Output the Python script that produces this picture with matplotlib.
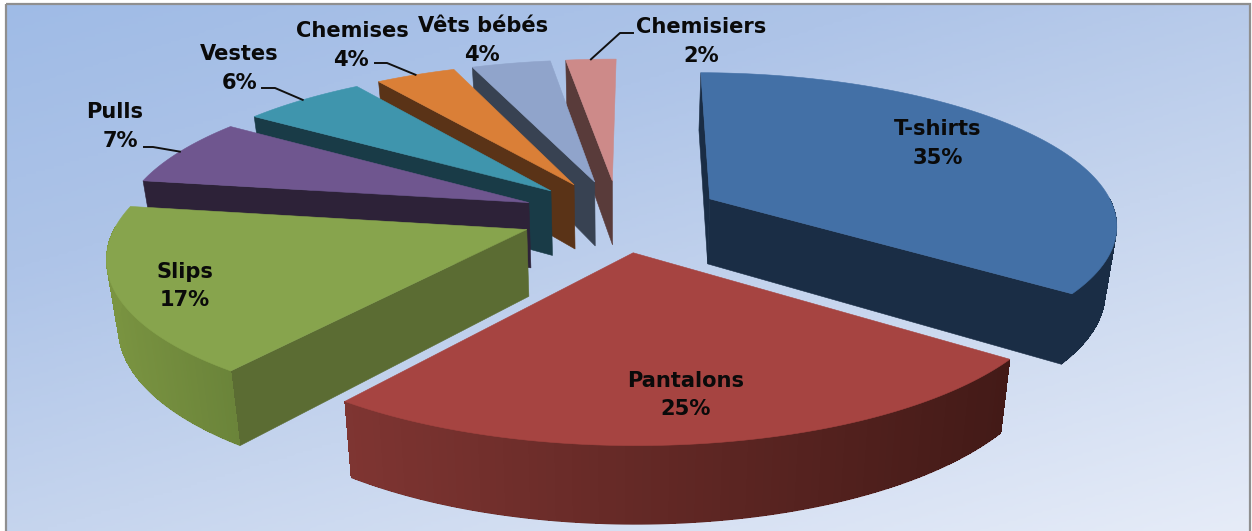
import numpy as np
import matplotlib
matplotlib.use("Agg")
import matplotlib.pyplot as plt
from matplotlib.colors import LinearSegmentedColormap, to_rgb
from matplotlib.patches import Rectangle

# ---- data ----
categories = ["T-shirts", "Pantalons", "Slips", "Pulls", "Vestes", "Chemises", "Vêts bébés", "Chemisiers"]
values = [35.0, 25.1, 17.2, 7.1, 5.8, 3.75, 3.7, 2.35]
value_labels = ["35%", "25%", "17%", "7%", "6%", "4%", "4%", "2%"]

# ---- style ----
top_colors = ["#4370a6", "#a64441", "#87a44d", "#6f568f", "#3f95ad", "#da7f37", "#90a4cb", "#cd8a89"]
wall_colors = ["#1a2d45", "#431a17", "#5b6c33", "#2d2238", "#193b47", "#5a3317", "#384252", "#593b3a"]
arc_left = ["#1a2d45", "#7f3532", "#7a9441", "#2d2238", "#193b47", "#5a3317", "#384252", "#593b3a"]
arc_right = ["#1a2d45", "#431a17", "#6b843a", "#2d2238", "#193b47", "#5a3317", "#384252", "#593b3a"]
draw_order = [7, 6, 5, 4, 3, 2, 0, 1]
label_xy = [(938, 129), (686, 381), (185, 272), (115, 112), (239, 54), (352, 31), (483, 26), (701, 27)]
value_xy = [(938, 158), (686, 409), (185, 300), (120, 141), (240, 83), (351, 60), (482, 55), (701, 56)]
leaders = {3: [(144, 147), (153, 147)], 4: [(262, 88), (275, 88)], 5: [(375, 63), (387, 63)], 7: [(633, 33), (620, 33)]}
FONT = "DejaVu Sans"
FS = 15.1
ROTATION = np.radians(0.5)

# ---- camera model (pixels) ----
U0, FX, DU, DV, A, VH = 618.5, 407.0, 6.5, 6.5, 6355.0, -762.0
EXPLODE = [0.255, 0.24, 0.24, 0.24, 0.24, 0.24, 0.24, 0.24]
H0, KB = 66.0, 0.977


def project(x, y):
    x, y = np.asarray(x, float), np.asarray(y, float)
    return U0 + FX * x * DU / (DU - y), VH + A / (DV - y)


def project_bottom(x, y):
    u, v = project(x, y)
    return U0 + (u - U0) * KB, v + H0 * 7.5 / (7.5 - y)


fig = plt.figure(figsize=(12.52, 5.31), dpi=100, facecolor="white")
ax = fig.add_axes([0, 0, 1, 1])

# background gradient
cmap = LinearSegmentedColormap.from_list(
    "bg", [(0, "#9fbbe6"), (0.3, "#aec4e8"), (0.6, "#c6d5ee"), (1, "#e6ecf8")])
xx, yy = np.meshgrid(np.linspace(6, 1250, 400), np.linspace(4, 531, 200))
ax.imshow((0.3 * xx + yy) / 907.0, extent=(6, 1250, 531, 4), cmap=cmap, vmin=0, vmax=1,
          aspect="auto", zorder=0, interpolation="bilinear")
ax.set_xlim(0, 1252)
ax.set_ylim(531, 0)
ax.axis("off")
ax.add_patch(Rectangle((6, 4), 1244, 540, fill=False, ec="#8f8f8f", lw=1.6, zorder=1))

fractions = np.array(values, float) / sum(values)
ends = np.cumsum(fractions) * 2 * np.pi + ROTATION
starts = ends - fractions * 2 * np.pi
mids = (starts + ends) / 2


def plane(theta, i, r=1.0):
    cx = EXPLODE[i] * np.sin(mids[i])
    cy = -EXPLODE[i] * np.cos(mids[i])
    return cx + r * np.sin(theta), cy - r * np.cos(theta)


z = 2
for i in draw_order:
    th = np.linspace(starts[i], ends[i], 90)
    ox, oy = plane(th, i)
    cx, cy = plane(th[0], i, 0.0)
    ut, vt = project(ox, oy)
    ub, vb = project_bottom(ox, oy)
    uct, vct = project(cx, cy)
    ucb, vcb = project_bottom(cx, cy)
    um, vm = ut[45], vt[45]
    # radial walls: only where the wall hangs outside the top face on screen
    for k in (0, -1):
        ex_, ey_ = ut[k] - uct, vt[k] - vct
        side_mid = ex_ * (vm - vct) - ey_ * (um - uct)
        side_down = ex_ * 1.0
        if side_mid * side_down < 0 and abs(ex_) > 8:
            ax.fill([uct, ut[k], ub[k], ucb], [vct, vt[k], vb[k], vcb],
                    fc=wall_colors[i], ec=wall_colors[i], lw=0.4, zorder=z)
    # outer wall: front-facing arc only
    front = -np.cos(th) > -0.03
    if front.sum() > 1:
        uf, vf, ubf, vbf = ut[front], vt[front], ub[front], vb[front]
        cl, cr = np.array(to_rgb(arc_left[i])), np.array(to_rgb(arc_right[i]))
        ax.fill(np.r_[uf, ubf[::-1]], np.r_[vf, vbf[::-1]], fc=(cl + cr) / 2, ec="none", zorder=z)
        umin, umax = uf.min(), uf.max()
        for k in range(len(uf) - 1):
            t = (uf[k] - umin) / max(umax - umin, 1)
            c = cl + (cr - cl) * t
            ax.fill([uf[k], uf[k + 1], ubf[k + 1], ubf[k]],
                    [vf[k], vf[k + 1], vbf[k + 1] - 0.8, vbf[k] - 0.8],
                    fc=c, ec="none", antialiased=False, zorder=z)
    # top face
    ax.fill(np.r_[uct, ut], np.r_[vct, vt], fc=top_colors[i], ec=top_colors[i], lw=0.4, zorder=z)
    z += 1

# leader lines ending on the middle of each slice's arc
for i, pts in leaders.items():
    ex, ey = project(*plane(mids[i], i))
    ax.plot([pts[0][0], pts[1][0], float(ex)], [pts[0][1], pts[1][1], float(ey)],
            color="#111111", lw=1.4, zorder=30, solid_joinstyle="round")

for name, val, p, q in zip(categories, value_labels, label_xy, value_xy):
    ax.text(p[0], p[1], name, ha="center", va="center", family=FONT, weight="bold",
            fontsize=FS, color="#0a0a0a", zorder=40)
    ax.text(q[0], q[1], val, ha="center", va="center", family=FONT, weight="bold",
            fontsize=FS, color="#0a0a0a", zorder=40)

fig.savefig("out.png", dpi=100, facecolor="white")
